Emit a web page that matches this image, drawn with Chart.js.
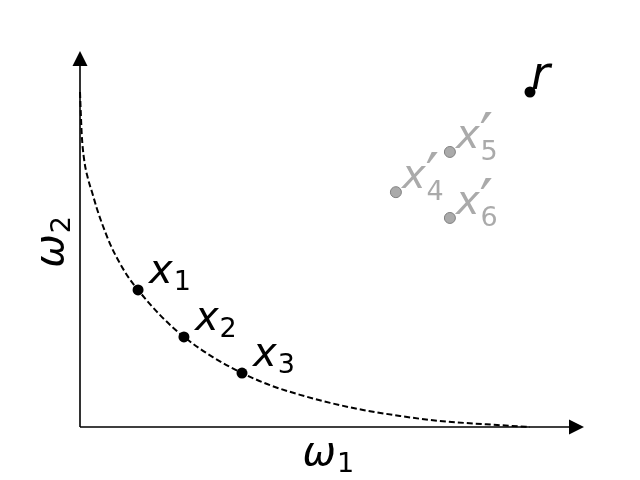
<!DOCTYPE html>
<html>
<head>
<meta charset="utf-8">
<script src="https://cdn.jsdelivr.net/npm/chart.js@4.4.0/dist/chart.umd.min.js"></script>
<style>
  html, body { margin: 0; padding: 0; background: #fff; }
  canvas { display: block; }
</style>
</head>
<body>
<canvas id="chart" width="640" height="480"></canvas>
<script>
// dashed front curve
var curveX = [0, 0.002, 0.004, 0.009, 0.018, 0.027, 0.038, 0.051, 0.067, 0.084, 0.107, 0.129, 0.178, 0.231, 0.296, 0.36, 0.422, 0.489, 0.556, 0.629, 0.711, 0.778, 0.856, 0.927, 1.0];
var curveY = [1.0, 0.93, 0.87, 0.80, 0.74, 0.70, 0.65, 0.60, 0.546, 0.50, 0.448, 0.409, 0.334, 0.269, 0.208, 0.161, 0.125, 0.096, 0.072, 0.051, 0.033, 0.021, 0.012, 0.006, 0];

// points on the front
var frontX = [0.129, 0.231, 0.36];
var frontY = [0.409, 0.269, 0.161];
var frontSub = ['1', '2', '3'];

// grey points
var greyX = [0.702, 0.822, 0.822];
var greyY = [0.701, 0.821, 0.624];
var greySub = ['4', '5', '6'];

// reference point
var refX = [1.0];
var refY = [1.0];

var axisLabelX = ['ω', '1'];
var axisLabelY = ['ω', '2'];

function pts(xs, ys) {
    return xs.map(function (x, i) { return { x: x, y: ys[i] }; });
}

var FONT = '"DejaVu Sans", sans-serif';

function drawSymbol(ctx, x, y, main, sub, prime, color) {
    ctx.fillStyle = color;
    ctx.textBaseline = 'alphabetic';
    ctx.textAlign = 'left';
    ctx.font = 'italic 40px ' + FONT;
    ctx.fillText(main, x, y);
    var w = ctx.measureText(main).width;
    if (prime) {
        ctx.font = '60px ' + FONT;
        ctx.fillText('′', x + w, y + 8);
    }
    if (sub) {
        ctx.font = '27px ' + FONT;
        ctx.fillText(sub, x + w + 1, y + (prime ? 12 : 7));
    }
}

var axesPlugin = {
    id: 'axes',
    beforeDatasetsDraw: function (chart) {
        var ctx = chart.ctx;
        var a = chart.chartArea;
        ctx.save();
        ctx.strokeStyle = '#000';
        ctx.fillStyle = '#000';
        ctx.lineWidth = 1.6;
        ctx.beginPath();
        ctx.moveTo(a.left, a.bottom);
        ctx.lineTo(a.right - 6, a.bottom);
        ctx.moveTo(a.left, a.bottom);
        ctx.lineTo(a.left, a.top + 7.5);
        ctx.stroke();
        // arrow heads
        ctx.beginPath();
        ctx.moveTo(a.right - 6, a.bottom - 7.5);
        ctx.lineTo(a.right + 9, a.bottom);
        ctx.lineTo(a.right - 6, a.bottom + 7.5);
        ctx.closePath();
        ctx.fill();
        ctx.beginPath();
        ctx.moveTo(a.left - 7.5, a.top + 7.5);
        ctx.lineTo(a.left, a.top - 7.5);
        ctx.lineTo(a.left + 7.5, a.top + 7.5);
        ctx.closePath();
        ctx.fill();

        // axis titles
        var cx = (a.left + a.right) / 2;
        drawSymbol(ctx, cx - 25, a.bottom + 38, axisLabelX[0], axisLabelX[1], false, '#000');
        ctx.translate(a.left - 17, (a.top + a.bottom) / 2 + 25);
        ctx.rotate(-Math.PI / 2);
        drawSymbol(ctx, 0, 0, axisLabelY[0], axisLabelY[1], false, '#000');
        ctx.restore();
    },
    afterDatasetsDraw: function (chart) {
        var ctx = chart.ctx;
        var xs = chart.scales.x, ys = chart.scales.y;
        ctx.save();
        frontX.forEach(function (v, i) {
            drawSymbol(ctx, xs.getPixelForValue(v) + 11, ys.getPixelForValue(frontY[i]) - 7, 'x', frontSub[i], false, '#000');
        });
        greyX.forEach(function (v, i) {
            drawSymbol(ctx, xs.getPixelForValue(v) + 6, ys.getPixelForValue(greyY[i]) - 4, 'x', greySub[i], true, '#aaaaaa');
        });
        ctx.font = 'italic 46px ' + FONT;
        ctx.fillStyle = '#000';
        ctx.fillText('r', xs.getPixelForValue(refX[0]) + 1, ys.getPixelForValue(refY[0]) - 3);
        ctx.restore();
    }
};

new Chart(document.getElementById('chart'), {
    type: 'scatter',
    data: {
        datasets: [{
            data: pts(curveX, curveY),
            showLine: true,
            borderColor: '#000',
            borderWidth: 2,
            borderDash: [6, 3],
            pointRadius: 0,
            cubicInterpolationMode: 'monotone',
            clip: false
        }, {
            data: pts(frontX, frontY),
            pointRadius: 5.5,
            backgroundColor: '#000',
            borderColor: '#000',
            borderWidth: 0,
            clip: false
        }, {
            data: pts(greyX, greyY),
            pointRadius: 5.5,
            backgroundColor: '#aaaaaa',
            borderColor: '#808080',
            borderWidth: 1,
            clip: false
        }, {
            data: pts(refX, refY),
            pointRadius: 5.5,
            backgroundColor: '#000',
            borderColor: '#000',
            borderWidth: 0,
            clip: false
        }]
    },
    options: {
        responsive: false,
        animation: false,
        layout: {
            padding: { left: 80, right: 65, top: 58.5, bottom: 53 }
        },
        scales: {
            x: { type: 'linear', min: 0, max: 1.1, display: false },
            y: { type: 'linear', min: 0, max: 1.1, display: false }
        },
        plugins: {
            legend: { display: false },
            tooltip: { enabled: false }
        }
    },
    plugins: [axesPlugin]
});
</script>
</body>
</html>
